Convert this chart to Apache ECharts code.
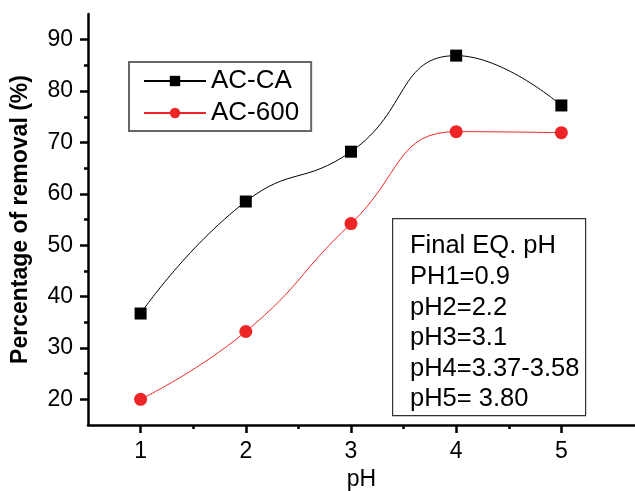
<!DOCTYPE html>
<html>
<head>
<meta charset="utf-8">
<script src="https://cdn.jsdelivr.net/npm/echarts@6/dist/echarts.min.js"></script>
<style>
  html, body { margin: 0; padding: 0; background: #fff; }
  #chart { width: 635px; height: 491px; }
</style>
</head>
<body>
<div id="chart"></div>
<script>
// 数据
const phValues = [1, 2, 3, 4, 5]
const acCA = [36.7, 58.5, 68.2, 86.9, 77.2]
const ac600 = [20.0, 33.2, 54.2, 72.1, 71.9]
const yTicks = [20, 30, 40, 50, 60, 70, 80, 90]
const yMinorTicks = [25, 35, 45, 55, 65, 75, 85]
const xTicks = [1, 2, 3, 4, 5]
const xMinorTicks = [1.5, 2.5, 3.5, 4.5]
const noteLines = ['Final EQ. pH', 'PH1=0.9', 'pH2=2.2', 'pH3=3.1', 'pH4=3.37-3.58', 'pH5= 3.80']

const font = 'Liberation Sans, Arial, sans-serif'
const mycharts = echarts.init(document.querySelector('#chart'))

function pairs(xs, ys) {
  return xs.map((x, i) => [x, ys[i]])
}

const option = {
  animation: false,
  grid: { left: 88, top: 14, right: 0, bottom: 66, containLabel: false, outerBoundsMode: 'none' },
  legend: {
    orient: 'vertical',
    left: 129,
    top: 62,
    padding: [6, 12, 5, 14],
    itemGap: 6,
    itemWidth: 62,
    itemHeight: 13,
    borderColor: '#666',
    borderWidth: 2,
    textStyle: { fontSize: 26, fontFamily: font, color: '#000' },
    data: ['AC-CA', 'AC-600']
  },
  xAxis: [
    {
      type: 'value',
      min: 0.5,
      max: 5.7,
      name: 'pH',
      nameLocation: 'middle',
      nameGap: 42,
      nameTextStyle: { fontSize: 23, fontFamily: font, color: '#000' },
      axisLine: { onZero: false, lineStyle: { color: '#000', width: 2.5 } },
      axisTick: { customValues: xTicks, length: 8, lineStyle: { width: 2.5, color: '#000' } },
      axisLabel: { customValues: xTicks, margin: 15, fontSize: 23, fontFamily: font, color: '#000' },
      splitLine: { show: false }
    },
    {
      type: 'value',
      position: 'bottom',
      min: 0.5,
      max: 5.7,
      axisLine: { show: false, onZero: false },
      axisTick: { customValues: xMinorTicks, length: 4, lineStyle: { width: 2.5, color: '#000' } },
      axisLabel: { show: false },
      splitLine: { show: false }
    }
  ],
  yAxis: [
    {
      type: 'value',
      min: 15,
      max: 95,
      name: 'Percentage of removal (%)',
      nameLocation: 'middle',
      nameGap: 56,
      nameTextStyle: { fontSize: 23, fontWeight: 'bold', fontFamily: font, color: '#000' },
      axisLine: { show: true, onZero: false, lineStyle: { color: '#000', width: 2.5 } },
      axisTick: { customValues: yTicks, length: 8, lineStyle: { width: 2.5, color: '#000' } },
      axisLabel: { customValues: yTicks, margin: 15, fontSize: 23, fontFamily: font, color: '#000' },
      splitLine: { show: false }
    },
    {
      type: 'value',
      position: 'left',
      min: 15,
      max: 95,
      axisLine: { show: false, onZero: false },
      axisTick: { show: true, customValues: yMinorTicks, length: 4, lineStyle: { width: 2.5, color: '#000' } },
      axisLabel: { show: false },
      splitLine: { show: false }
    }
  ],
  series: [
    {
      name: 'AC-CA',
      type: 'line',
      smooth: 0.5,
      symbol: 'rect',
      symbolSize: 12,
      itemStyle: { color: '#000' },
      lineStyle: { color: '#000', width: 1 },
      data: pairs(phValues, acCA)
    },
    {
      name: 'AC-600',
      type: 'line',
      smooth: 0.5,
      symbol: 'circle',
      symbolSize: 13,
      itemStyle: { color: '#ee2526' },
      lineStyle: { color: '#ee2526', width: 1 },
      data: pairs(phValues, ac600)
    }
  ],
  graphic: [
    {
      type: 'rect',
      left: 392,
      top: 218,
      shape: { width: 193, height: 197 },
      style: { fill: '#fff', stroke: '#333', lineWidth: 1.2 },
      z: 10
    },
    {
      type: 'text',
      left: 410,
      top: 231,
      style: {
        text: noteLines.join('\n'),
        fontSize: 25.5,
        lineHeight: 30.6,
        fontFamily: font,
        fill: '#000'
      },
      z: 11
    }
  ]
}
mycharts.setOption(option)
</script>
</body>
</html>
